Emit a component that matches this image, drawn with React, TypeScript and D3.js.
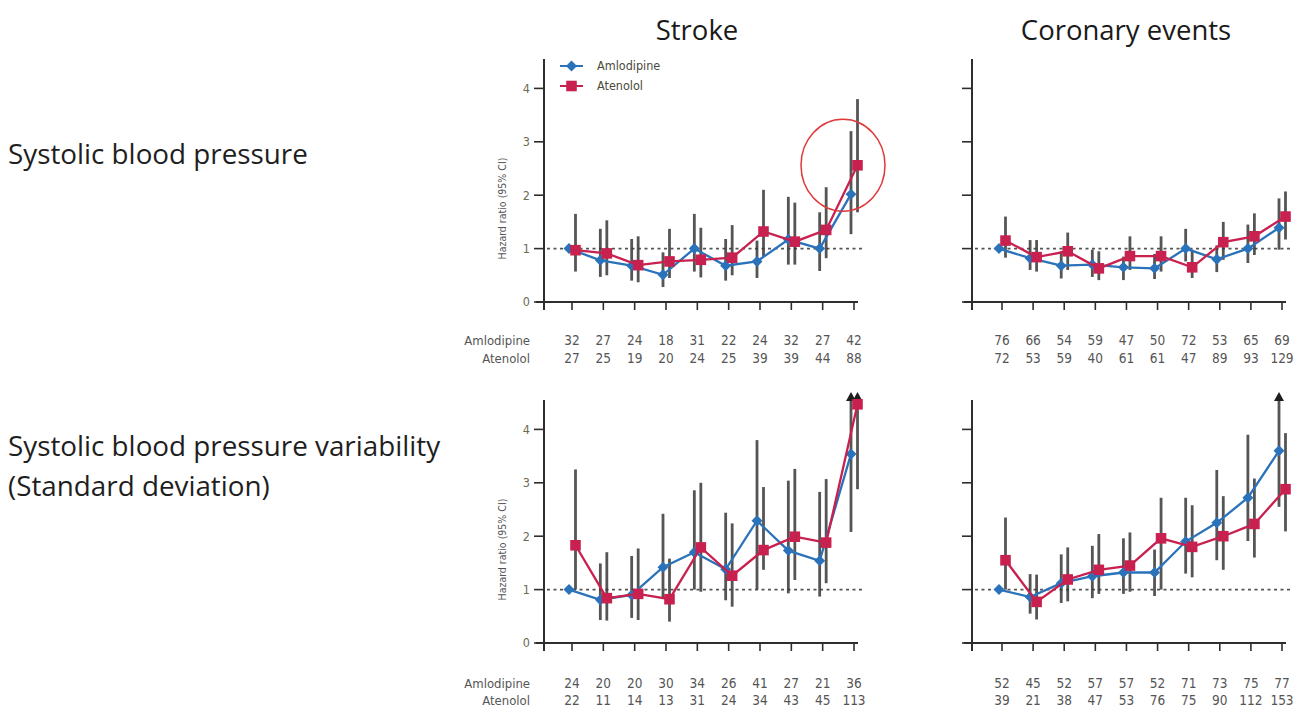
import React from "react";
import * as d3 from "d3";

// deciles of the exposure, 1..10
const deciles = [1, 2, 3, 4, 5, 6, 7, 8, 9, 10];
const columnTitles = ["Stroke", "Coronary events"];
const rowTitles = [["Systolic blood pressure"], ["Systolic blood pressure variability", "(Standard deviation)"]];
const drugNames = ["Amlodipine", "Atenolol"];
const yTicks = [0, 1, 2, 3, 4];

// Infinity = upper limit runs off the axis (drawn as an arrow)
// stroke, SBP
const strokeSbpAmloHr = [1.0, 0.78, 0.68, 0.51, 1.0, 0.68, 0.76, 1.17, 1.0, 2.02];
const strokeSbpAmloLo = [null, 0.47, 0.4, 0.28, 0.57, 0.4, 0.45, 0.7, 0.58, 1.27];
const strokeSbpAmloHi = [null, 1.37, 1.18, 0.93, 1.65, 1.18, 1.15, 1.97, 1.68, 3.2];
const strokeSbpAtenHr = [0.97, 0.91, 0.69, 0.76, 0.79, 0.83, 1.32, 1.13, 1.35, 2.56];
const strokeSbpAtenLo = [0.57, 0.5, 0.37, 0.45, 0.46, 0.5, 0.85, 0.7, 0.82, 1.68];
const strokeSbpAtenHi = [1.65, 1.53, 1.23, 1.37, 1.39, 1.44, 2.1, 1.86, 2.15, 3.8];
const strokeSbpAmloN = [32, 27, 24, 18, 31, 22, 24, 32, 27, 42];
const strokeSbpAtenN = [27, 25, 19, 20, 24, 25, 39, 39, 44, 88];

// coronary, SBP
const coronSbpAmloHr = [1.0, 0.82, 0.68, 0.7, 0.65, 0.63, 1.0, 0.8, 1.0, 1.39];
const coronSbpAmloLo = [null, 0.6, 0.44, 0.47, 0.41, 0.43, 0.76, 0.56, 0.73, 0.98];
const coronSbpAmloHi = [null, 1.16, 0.95, 0.98, 0.85, 0.9, 1.37, 1.06, 1.45, 1.94];
const coronSbpAtenHr = [1.15, 0.84, 0.95, 0.63, 0.86, 0.86, 0.65, 1.12, 1.23, 1.6];
const coronSbpAtenLo = [0.83, 0.57, 0.6, 0.41, 0.6, 0.57, 0.45, 0.79, 0.88, 1.17];
const coronSbpAtenHi = [1.6, 1.16, 1.3, 0.95, 1.23, 1.23, 0.98, 1.5, 1.66, 2.07];
const coronSbpAmloN = [76, 66, 54, 59, 47, 50, 72, 53, 65, 69];
const coronSbpAtenN = [72, 53, 59, 40, 61, 61, 47, 89, 93, 129];

// stroke, SBP variability
const strokeSdAmloHr = [1.0, 0.81, 0.9, 1.42, 1.7, 1.38, 2.29, 1.73, 1.54, 3.54];
const strokeSdAmloLo = [null, 0.43, 0.47, 0.83, 1.0, 0.8, 1.0, 0.93, 0.87, 2.08];
const strokeSdAmloHi = [null, 1.49, 1.63, 2.42, 2.86, 2.44, 3.8, 3.04, 2.83, Infinity];
const strokeSdAtenHr = [1.83, 0.84, 0.92, 0.82, 1.79, 1.26, 1.74, 1.99, 1.88, 4.47];
const strokeSdAtenLo = [1.0, 0.42, 0.43, 0.4, 0.96, 0.68, 1.37, 1.18, 1.12, 2.88];
const strokeSdAtenHi = [3.25, 1.7, 1.77, 1.58, 3.0, 2.24, 2.92, 3.26, 3.07, Infinity];
const strokeSdAmloN = [24, 20, 20, 30, 34, 26, 41, 27, 21, 36];
const strokeSdAtenN = [22, 11, 14, 13, 31, 24, 34, 43, 45, 113];

// coronary, SBP variability
const coronSdAmloHr = [1.0, 0.86, 1.12, 1.25, 1.32, 1.32, 1.9, 2.25, 2.72, 3.6];
const coronSdAmloLo = [null, 0.55, 0.75, 0.84, 0.92, 0.88, 1.3, 1.55, 1.91, 2.55];
const coronSdAmloHi = [null, 1.29, 1.66, 1.82, 1.96, 1.75, 2.72, 3.24, 3.9, Infinity];
const coronSdAtenHr = [1.55, 0.77, 1.19, 1.37, 1.45, 1.96, 1.8, 2.0, 2.23, 2.88];
const coronSdAtenLo = [1.0, 0.44, 0.78, 0.92, 0.96, 1.0, 1.23, 1.37, 1.6, 2.09];
const coronSdAtenHi = [2.35, 1.28, 1.79, 2.04, 2.07, 2.72, 2.58, 2.75, 3.08, 3.93];
const coronSdAmloN = [52, 45, 52, 57, 57, 52, 71, 73, 75, 77];
const coronSdAtenN = [39, 21, 38, 47, 53, 76, 75, 90, 112, 153];

const BLUE = "#2a72b9";
const RED = "#c8204f";
const BAR = "#383838";
const AXIS = "#2e2e2e";
const SANS = "'Open Sans', 'Liberation Sans', sans-serif";
const SMALL = "'Liberation Sans Narrow', 'DejaVu Sans Condensed', 'Liberation Sans', sans-serif";

const Y_MAX = 4.55;
const UNIT = 53.4;
const colX = [[572, 854], [1002, 1282]];
const colAxisX = [544, 972];
const rowZero = [302, 643];
const countRows = [[340, 358], [683, 700]];

const panels = [
  { row: 0, col: 0, amlo: [strokeSbpAmloHr, strokeSbpAmloLo, strokeSbpAmloHi], aten: [strokeSbpAtenHr, strokeSbpAtenLo, strokeSbpAtenHi], n: [strokeSbpAmloN, strokeSbpAtenN], legend: true, circle: true },
  { row: 0, col: 1, amlo: [coronSbpAmloHr, coronSbpAmloLo, coronSbpAmloHi], aten: [coronSbpAtenHr, coronSbpAtenLo, coronSbpAtenHi], n: [coronSbpAmloN, coronSbpAtenN] },
  { row: 1, col: 0, amlo: [strokeSdAmloHr, strokeSdAmloLo, strokeSdAmloHi], aten: [strokeSdAtenHr, strokeSdAtenLo, strokeSdAtenHi], n: [strokeSdAmloN, strokeSdAtenN] },
  { row: 1, col: 1, amlo: [coronSdAmloHr, coronSdAmloLo, coronSdAmloHi], aten: [coronSdAtenHr, coronSdAtenLo, coronSdAtenHi], n: [coronSdAmloN, coronSdAtenN] },
];

const diamond = d3.symbol(d3.symbolSquare, 60)();
const square = d3.symbol(d3.symbolSquare, 112)();

function Panel({ p }: { p: any }) {
  const x = d3.scaleLinear().domain([1, 10]).range(colX[p.col]);
  const zero = rowZero[p.row];
  const y = d3.scaleLinear().domain([0, Y_MAX]).range([zero, zero - Y_MAX * UNIT]);
  const ax = colAxisX[p.col];
  const top = y(Y_MAX);
  const showLabels = p.col === 0;

  const series = [
    { key: "amlo", v: p.amlo, color: BLUE, dx: -3, mark: diamond, rot: 45 },
    { key: "aten", v: p.aten, color: RED, dx: 3.5, mark: square, rot: 0 },
  ];
  const line = d3.line<number>().x((_, i) => x(deciles[i])).y(d => y(d));

  return (
    <g>
      {/* axes */}
      <line x1={ax} x2={ax} y1={top} y2={zero + 8} stroke={AXIS} strokeWidth={2} />
      <line x1={ax - 8} x2={x(10) + 4} y1={zero} y2={zero} stroke={AXIS} strokeWidth={2} />
      {yTicks.map(t => (
        <g key={t}>
          <line x1={ax - 10} x2={ax} y1={y(t)} y2={y(t)} stroke={AXIS} strokeWidth={1.6} />
          {showLabels && (
            <text x={ax - 14} y={y(t)} dy="0.35em" textAnchor="end" fontSize={12.5} fill="#6b6b55" fontFamily={SMALL}>{t}</text>
          )}
        </g>
      ))}
      {deciles.map(d => (
        <line key={d} x1={x(d)} x2={x(d)} y1={zero} y2={zero + 8} stroke={AXIS} strokeWidth={1.6} />
      ))}
      {showLabels && (
        <text transform={`translate(${ax - 38},${y(1.75)}) rotate(-90)`} textAnchor="middle" fontSize={10.5} fill="#555" fontFamily={SMALL}>
          Hazard ratio (95% CI)
        </text>
      )}
      {/* reference line */}
      <line x1={ax + 3} x2={x(10) + 8} y1={y(1)} y2={y(1)} stroke="#555" strokeWidth={1.7} strokeDasharray="3,3.5" />

      {/* confidence intervals */}
      {series.map(s =>
        deciles.map((d, i) => {
          const lo = s.v[1][i];
          const hi = s.v[2][i];
          if (lo == null || hi == null) return null;
          const off = hi > Y_MAX;
          const cx = x(d) + s.dx;
          return (
            <g key={s.key + d}>
              <line x1={cx} x2={cx} y1={y(lo)} y2={y(Math.min(hi, Y_MAX))} stroke={BAR} strokeWidth={2.8} opacity={0.85} />
              {off && (
                <path d={`M${cx - 5},${top + 1}L${cx + 5},${top + 1}L${cx},${top - 8}Z`} fill="#1e1e1e" />
              )}
            </g>
          );
        })
      )}
      {/* lines and markers */}
      {series.map(s => (
        <g key={s.key} transform={`translate(${s.dx},0)`}>
          <path d={line(s.v[0]) || ""} fill="none" stroke={s.color} strokeWidth={2.3} />
          {s.v[0].map((v: number, i: number) => (
            <path key={i} d={s.mark || ""} fill={s.color} transform={`translate(${x(deciles[i])},${y(v)}) rotate(${s.rot})`} />
          ))}
        </g>
      ))}

      {/* legend */}
      {p.legend && series.map((s, k) => (
        <g key={s.key} transform={`translate(${ax + 16},${66 + k * 20})`}>
          <line x1={0} x2={23} stroke={s.color} strokeWidth={2} />
          <path d={s.mark || ""} fill={s.color} transform={`translate(11.5,0) rotate(${s.rot})`} />
          <text x={37} dy="0.35em" fontSize={12.5} fill="#4a4a3a" fontFamily={SMALL}>{drugNames[k]}</text>
        </g>
      ))}
      {p.circle && (
        <ellipse cx={x(10) - 11} cy={y(p.aten[0][9])} rx={42} ry={46} fill="none" stroke="#e0393b" strokeWidth={1.5} />
      )}

      {/* numbers of events */}
      {p.n.map((arr: number[], k: number) => (
        <g key={k}>
          {showLabels && (
            <text x={530} y={countRows[p.row][k]} dy="0.35em" textAnchor="end" fontSize={13} fill="#555" fontFamily={SMALL}>{drugNames[k]}</text>
          )}
          {arr.map((n, i) => (
            <text key={i} x={x(deciles[i])} y={countRows[p.row][k]} dy="0.35em" textAnchor="middle" fontSize={13.5} fill="#555" fontFamily={SMALL}>{n}</text>
          ))}
        </g>
      ))}
    </g>
  );
}

export default function App() {
  return (
    <svg width={1308} height={724} style={{ position: "absolute", left: 0, top: 0, background: "#fff" }}>
      {columnTitles.map((t, c) => (
        <text key={t} x={(colX[c][0] + colX[c][1]) / 2 - 16} y={40} textAnchor="middle" fontSize={27.5} fill="#1a1a1a" fontFamily={SANS}>{t}</text>
      ))}
      {rowTitles.map((lines, r) => (
        <text key={r} fontSize={27.8} fill="#1e1e1e" fontFamily={SANS}>
          {lines.map((l, k) => (
            <tspan key={k} x={8} y={(r === 0 ? 164 : 456) + k * 40}>{l}</tspan>
          ))}
        </text>
      ))}
      {panels.map((p, i) => <Panel key={i} p={p} />)}
    </svg>
  );
}
